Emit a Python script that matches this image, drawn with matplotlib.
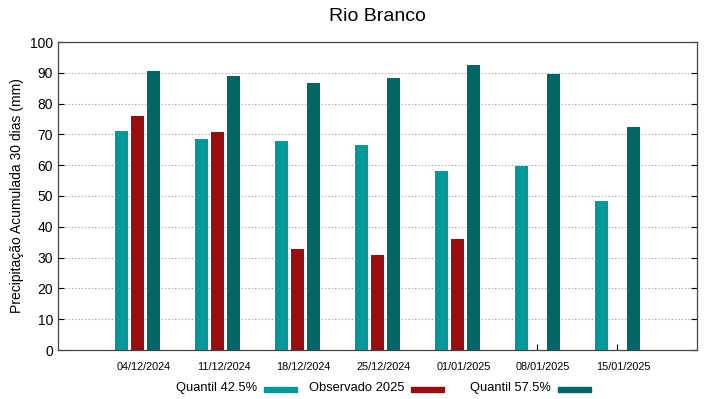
import numpy as np
import matplotlib.pyplot as plt
from matplotlib.patches import Rectangle

plt.rcParams["font.family"] = ["Liberation Sans", "DejaVu Sans"]

datas = ["04/12/2024", "11/12/2024", "18/12/2024", "25/12/2024",
         "01/01/2025", "08/01/2025", "15/01/2025"]
q425 = [71.2, 68.6, 67.8, 66.4, 58.2, 59.8, 48.3]
obs2025 = [75.9, 70.7, 32.9, 30.8, 36.1, np.nan, np.nan]
q575 = [90.7, 89.1, 86.7, 88.4, 92.6, 89.7, 72.5]

cor_q425 = "#009999"
cor_obs = "#990f0f"
cor_q575 = "#006666"

W, H = 719, 399
fig = plt.figure(figsize=(W / 100, H / 100), dpi=100)
ax = fig.add_axes([58 / W, 1 - 350 / H, 639 / W, 308 / H])

x = np.arange(1, len(datas) + 1)
w = 0.165
ax.bar(x - 0.2, q425, w, color=cor_q425, zorder=2)
ax.bar(x, obs2025, w, color=cor_obs, zorder=2)
ax.bar(x + 0.2, q575, w, color=cor_q575, zorder=2)

ax.set_xlim(0, 8)
ax.set_ylim(0, 100)
ax.set_yticks(np.arange(0, 101, 10))
# marcas nos centros dos grupos, rótulos um pouco à direita (como no gnuplot)
ax.set_xticks(x)
ax.set_xticklabels([])
ax.set_xticks(x + 0.075, minor=True)
ax.set_xticklabels(datas, minor=True, fontsize=7.8)
ax.tick_params(axis="y", labelsize=10, direction="in", right=True, length=4)
ax.tick_params(axis="x", which="major", direction="in", length=4)
ax.tick_params(axis="x", which="minor", length=0, pad=9)
for yv in range(10, 100, 10):
    ax.axhline(yv, color="#999999", lw=0.8, ls=(0, (1, 2)), zorder=1)
for s in ax.spines.values():
    s.set_color("#444444")
    s.set_linewidth(0.9)

ax.set_title("Rio Branco", fontsize=14, pad=15)
ax.set_ylabel("Precipitação Acumulada 30 dias (mm)", fontsize=10)

# legenda estilo gnuplot: texto alinhado à direita e amostra depois
labels = ["Quantil 42.5%", "Observado 2025", "Quantil 57.5%"]
cores = [cor_q425, cor_obs, cor_q575]
for i, (lab, cor) in enumerate(zip(labels, cores)):
    x0 = 264 + 147 * i
    fig.patches.append(Rectangle((x0 / W, 1 - 392 / H), 33 / W, 5 / H,
                                 transform=fig.transFigure, color=cor))
    fig.text((x0 - 7) / W, 1 - 388 / H, lab, ha="right", va="center", fontsize=9.3)

fig.savefig("out.png", dpi=100)
